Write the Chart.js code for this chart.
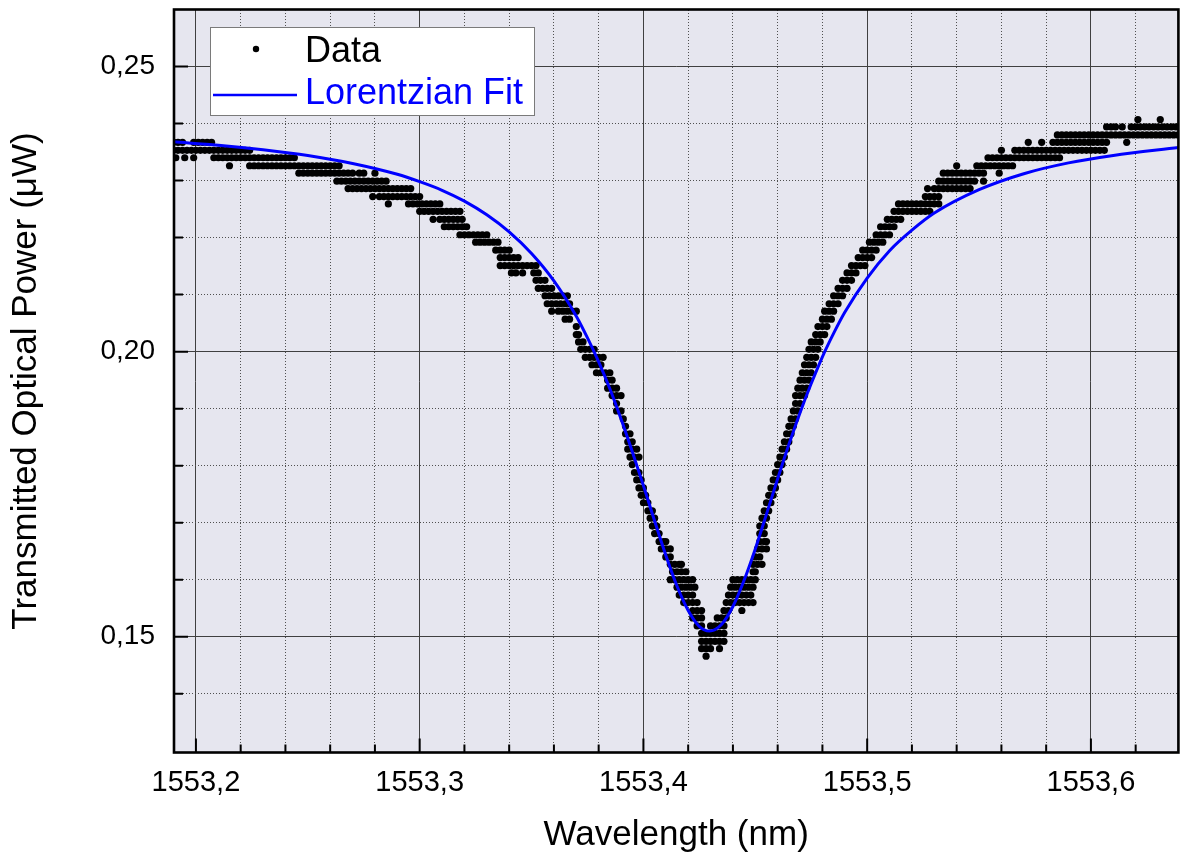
<!DOCTYPE html>
<html>
<head>
<meta charset="utf-8">
<script src="https://cdn.jsdelivr.net/npm/chart.js@4.4.1/dist/chart.umd.min.js"></script>
<style>
  html, body { margin: 0; padding: 0; background: #ffffff; }
  #wrap { width: 1182px; height: 861px; }
</style>
</head>
<body>
<div id="wrap"><canvas id="c" width="1182" height="861"></canvas></div>
<script>
// ---------------- data ----------------
const xTitle = 'Wavelength (nm)';
const yTitle = 'Transmitted Optical Power (\u03bcW)';
const legendLabels = ['Data', 'Lorentzian Fit'];

const xMajorTicks = [1553.2, 1553.3, 1553.4, 1553.5, 1553.6];
const xTickLabels = ['1553,2', '1553,3', '1553,4', '1553,5', '1553,6'];
const yMajorTicks = [0.15, 0.20, 0.25];
const yTickLabels = ['0,15', '0,20', '0,25'];
const xMinorTicks = [1553.22, 1553.24, 1553.26, 1553.28, 1553.32, 1553.34, 1553.36, 1553.38,
                     1553.42, 1553.44, 1553.46, 1553.48, 1553.52, 1553.54, 1553.56, 1553.58,
                     1553.62];
const yMinorTicks = [0.14, 0.16, 0.17, 0.18, 0.19, 0.21, 0.22, 0.23, 0.24];
const xRange = [1553.1902, 1553.6391];
const yRange = [0.1297, 0.2600];

// measured points: power levels (quantised readout) and the wavelengths seen on each level
const dataPowerLevels = [
  0.2407, 0.2394, 0.2380, 0.2367, 0.2353, 0.2340, 0.2326, 0.2313, 0.2299, 0.2286,
  0.2272, 0.2259, 0.2246, 0.2232, 0.2219, 0.2205, 0.2192, 0.2178, 0.2165, 0.2151,
  0.2138, 0.2125, 0.2111, 0.2098, 0.2084, 0.2071, 0.2057, 0.2044, 0.2030, 0.2017,
  0.2004, 0.1990, 0.1977, 0.1963, 0.1950, 0.1936, 0.1923, 0.1909, 0.1896, 0.1882,
  0.1869, 0.1856, 0.1842, 0.1829, 0.1815, 0.1802, 0.1788, 0.1775, 0.1761, 0.1748,
  0.1735, 0.1721, 0.1708, 0.1694, 0.1681, 0.1667, 0.1654, 0.1640, 0.1627, 0.1614,
  0.1600, 0.1587, 0.1573, 0.1560, 0.1546, 0.1533, 0.1519, 0.1506, 0.1492, 0.1479,
  0.1466
];
const dataWavelengthsByLevel = [
  [1553.621, 1553.631],
  [1553.607, 1553.609, 1553.611, 1553.614, 1553.618, 1553.620, 1553.622, 1553.624, 1553.626, 1553.628, 1553.630, 1553.632, 1553.634, 1553.636, 1553.638],
  [1553.585, 1553.587, 1553.589, 1553.591, 1553.593, 1553.595, 1553.597, 1553.599, 1553.601, 1553.603, 1553.605, 1553.607, 1553.609, 1553.611, 1553.613, 1553.615, 1553.617, 1553.619, 1553.621, 1553.623, 1553.625, 1553.627, 1553.629, 1553.631, 1553.633, 1553.635, 1553.637, 1553.639],
  [1553.190, 1553.192, 1553.194, 1553.199, 1553.201, 1553.203, 1553.205, 1553.207, 1553.572, 1553.578, 1553.583, 1553.585, 1553.587, 1553.589, 1553.591, 1553.593, 1553.595, 1553.597, 1553.599, 1553.601, 1553.603, 1553.605, 1553.607, 1553.616],
  [1553.190, 1553.192, 1553.194, 1553.196, 1553.198, 1553.200, 1553.202, 1553.204, 1553.206, 1553.208, 1553.210, 1553.212, 1553.214, 1553.216, 1553.218, 1553.220, 1553.222, 1553.224, 1553.560, 1553.566, 1553.568, 1553.570, 1553.572, 1553.574, 1553.576, 1553.578, 1553.580, 1553.582, 1553.584, 1553.586, 1553.588, 1553.590, 1553.592, 1553.594, 1553.596, 1553.598, 1553.600, 1553.602, 1553.604, 1553.606],
  [1553.191, 1553.195, 1553.199, 1553.208, 1553.210, 1553.212, 1553.214, 1553.216, 1553.218, 1553.220, 1553.222, 1553.224, 1553.226, 1553.228, 1553.230, 1553.232, 1553.234, 1553.236, 1553.238, 1553.240, 1553.242, 1553.244, 1553.554, 1553.556, 1553.558, 1553.560, 1553.562, 1553.564, 1553.566, 1553.568, 1553.570, 1553.572, 1553.574, 1553.576, 1553.578, 1553.580, 1553.582, 1553.584, 1553.586],
  [1553.215, 1553.224, 1553.226, 1553.228, 1553.230, 1553.232, 1553.234, 1553.236, 1553.238, 1553.240, 1553.242, 1553.244, 1553.246, 1553.248, 1553.250, 1553.252, 1553.254, 1553.256, 1553.258, 1553.260, 1553.262, 1553.264, 1553.540, 1553.549, 1553.551, 1553.553, 1553.555, 1553.557, 1553.559, 1553.561, 1553.563, 1553.565],
  [1553.246, 1553.248, 1553.250, 1553.252, 1553.254, 1553.256, 1553.258, 1553.260, 1553.262, 1553.264, 1553.266, 1553.268, 1553.270, 1553.273, 1553.275, 1553.280, 1553.534, 1553.536, 1553.538, 1553.540, 1553.542, 1553.544, 1553.546, 1553.548, 1553.550, 1553.552, 1553.559],
  [1553.263, 1553.265, 1553.267, 1553.269, 1553.271, 1553.273, 1553.275, 1553.277, 1553.279, 1553.281, 1553.283, 1553.285, 1553.532, 1553.534, 1553.536, 1553.538, 1553.540, 1553.542, 1553.544, 1553.546, 1553.548, 1553.552],
  [1553.268, 1553.270, 1553.272, 1553.274, 1553.276, 1553.278, 1553.280, 1553.282, 1553.284, 1553.286, 1553.288, 1553.290, 1553.292, 1553.294, 1553.296, 1553.527, 1553.530, 1553.532, 1553.534, 1553.536, 1553.538, 1553.540, 1553.542, 1553.544, 1553.546],
  [1553.279, 1553.282, 1553.284, 1553.286, 1553.288, 1553.290, 1553.292, 1553.294, 1553.296, 1553.298, 1553.300, 1553.526, 1553.528, 1553.530, 1553.532],
  [1553.286, 1553.295, 1553.297, 1553.299, 1553.301, 1553.303, 1553.305, 1553.307, 1553.309, 1553.514, 1553.516, 1553.518, 1553.520, 1553.522, 1553.524, 1553.526, 1553.528, 1553.530, 1553.532],
  [1553.300, 1553.302, 1553.304, 1553.306, 1553.308, 1553.310, 1553.312, 1553.314, 1553.316, 1553.318, 1553.512, 1553.514, 1553.516, 1553.518, 1553.520, 1553.522, 1553.524, 1553.526, 1553.528],
  [1553.306, 1553.309, 1553.311, 1553.313, 1553.315, 1553.317, 1553.319, 1553.509, 1553.511, 1553.513, 1553.515],
  [1553.311, 1553.313, 1553.315, 1553.317, 1553.319, 1553.321, 1553.506, 1553.508, 1553.510, 1553.512],
  [1553.318, 1553.320, 1553.322, 1553.324, 1553.326, 1553.328, 1553.330, 1553.504, 1553.506, 1553.508, 1553.510],
  [1553.325, 1553.327, 1553.329, 1553.331, 1553.333, 1553.335, 1553.501, 1553.503, 1553.505, 1553.507],
  [1553.334, 1553.336, 1553.338, 1553.340, 1553.498, 1553.500, 1553.502, 1553.504],
  [1553.336, 1553.338, 1553.340, 1553.342, 1553.344, 1553.496, 1553.498, 1553.500, 1553.502],
  [1553.336, 1553.338, 1553.340, 1553.342, 1553.344, 1553.346, 1553.348, 1553.350, 1553.352, 1553.493, 1553.495, 1553.497, 1553.499],
  [1553.341, 1553.343, 1553.346, 1553.351, 1553.353, 1553.491, 1553.493, 1553.495],
  [1553.352, 1553.354, 1553.356, 1553.489, 1553.491, 1553.493],
  [1553.353, 1553.355, 1553.357, 1553.359, 1553.487, 1553.489, 1553.491],
  [1553.356, 1553.358, 1553.360, 1553.362, 1553.364, 1553.366, 1553.485, 1553.487, 1553.489],
  [1553.357, 1553.359, 1553.361, 1553.363, 1553.365, 1553.367, 1553.483, 1553.485, 1553.487],
  [1553.359, 1553.362, 1553.364, 1553.366, 1553.368, 1553.370, 1553.481, 1553.483, 1553.485],
  [1553.365, 1553.367, 1553.480, 1553.482, 1553.484],
  [1553.370, 1553.478, 1553.480, 1553.482],
  [1553.370, 1553.371, 1553.477, 1553.479, 1553.481],
  [1553.371, 1553.373, 1553.475, 1553.477, 1553.479],
  [1553.372, 1553.374, 1553.376, 1553.378, 1553.474, 1553.476, 1553.478],
  [1553.374, 1553.376, 1553.378, 1553.380, 1553.382, 1553.473, 1553.475, 1553.477],
  [1553.377, 1553.379, 1553.381, 1553.472, 1553.474, 1553.476],
  [1553.379, 1553.381, 1553.383, 1553.385, 1553.471, 1553.473, 1553.475],
  [1553.384, 1553.386, 1553.470, 1553.472, 1553.474],
  [1553.384, 1553.386, 1553.388, 1553.469, 1553.471, 1553.473],
  [1553.386, 1553.388, 1553.390, 1553.468, 1553.470, 1553.472],
  [1553.388, 1553.468, 1553.470],
  [1553.388, 1553.390, 1553.467, 1553.469],
  [1553.391, 1553.466, 1553.468],
  [1553.392, 1553.465, 1553.467],
  [1553.392, 1553.394, 1553.464, 1553.466],
  [1553.393, 1553.395, 1553.463, 1553.465],
  [1553.393, 1553.395, 1553.397, 1553.462, 1553.464],
  [1553.394, 1553.396, 1553.398, 1553.461, 1553.463],
  [1553.395, 1553.460, 1553.462],
  [1553.396, 1553.398, 1553.459, 1553.461],
  [1553.397, 1553.399, 1553.458, 1553.460],
  [1553.398, 1553.400, 1553.457, 1553.459],
  [1553.399, 1553.401, 1553.456, 1553.458],
  [1553.400, 1553.402, 1553.455, 1553.457],
  [1553.402, 1553.404, 1553.454, 1553.456],
  [1553.403, 1553.405, 1553.453, 1553.455],
  [1553.404, 1553.406, 1553.452, 1553.454],
  [1553.405, 1553.407, 1553.452, 1553.454],
  [1553.407, 1553.409, 1553.410, 1553.452, 1553.454, 1553.455],
  [1553.408, 1553.410, 1553.412, 1553.451, 1553.453, 1553.455],
  [1553.410, 1553.412, 1553.450, 1553.452],
  [1553.412, 1553.414, 1553.416, 1553.417, 1553.449, 1553.451, 1553.453],
  [1553.413, 1553.415, 1553.417, 1553.419, 1553.449, 1553.450],
  [1553.412, 1553.414, 1553.416, 1553.418, 1553.420, 1553.422, 1553.440, 1553.442, 1553.444, 1553.446, 1553.448, 1553.450],
  [1553.415, 1553.417, 1553.419, 1553.421, 1553.423, 1553.439, 1553.441, 1553.443, 1553.445, 1553.447, 1553.449],
  [1553.416, 1553.418, 1553.420, 1553.422, 1553.438, 1553.440, 1553.442, 1553.444, 1553.446, 1553.448],
  [1553.418, 1553.420, 1553.422, 1553.424, 1553.437, 1553.439, 1553.441, 1553.443, 1553.445, 1553.447, 1553.449],
  [1553.422, 1553.424, 1553.426, 1553.436, 1553.438, 1553.444],
  [1553.422, 1553.424, 1553.426, 1553.433, 1553.435, 1553.437],
  [1553.424, 1553.426, 1553.430, 1553.432, 1553.434, 1553.436],
  [1553.426, 1553.428, 1553.430, 1553.432, 1553.434, 1553.436],
  [1553.426, 1553.428, 1553.430, 1553.432, 1553.434, 1553.436],
  [1553.426, 1553.428, 1553.430, 1553.434],
  [1553.428]
];

// Lorentzian fit curve
const fitWavelength = [
  1553.1902, 1553.210, 1553.230, 1553.250, 1553.270, 1553.290, 1553.300, 1553.310, 1553.320, 1553.330,
  1553.340, 1553.350, 1553.360, 1553.370, 1553.375, 1553.380, 1553.385, 1553.390, 1553.395, 1553.400,
  1553.405, 1553.410, 1553.415, 1553.420, 1553.425, 1553.4295, 1553.435, 1553.440, 1553.445, 1553.450,
  1553.455, 1553.460, 1553.465, 1553.470, 1553.475, 1553.480, 1553.485, 1553.490, 1553.500, 1553.510,
  1553.520, 1553.530, 1553.550, 1553.570, 1553.590, 1553.610, 1553.6391
];
const fitPower = [
  0.2368, 0.2362, 0.2354, 0.2344, 0.2330, 0.2311, 0.2298, 0.2283, 0.2264, 0.2240,
  0.2210, 0.2172, 0.2124, 0.2062, 0.2024, 0.1982, 0.1935, 0.1882, 0.1825, 0.1765,
  0.1703, 0.1643, 0.1589, 0.1546, 0.1518, 0.1510, 0.1522, 0.1553, 0.1599, 0.1654,
  0.1715, 0.1777, 0.1837, 0.1893, 0.1944, 0.1991, 0.2032, 0.2069, 0.2129, 0.2177,
  0.2213, 0.2243, 0.2284, 0.2312, 0.2331, 0.2344, 0.2358
];

// ---------------- styling ----------------
const FONT = "'Liberation Sans', Arial, Helvetica, sans-serif";
const plotBg = '#e6e6ef';
const dataColor = '#000000';
const fitColor = '#0000ff';

const dataPoints = [];
dataPowerLevels.forEach((p, i) => {
  dataWavelengthsByLevel[i].forEach(w => dataPoints.push({ x: w, y: p }));
});
const fitPoints = fitWavelength.map((w, i) => ({ x: w, y: fitPower[i] }));

const noPad = s => { s.paddingTop = 0; s.paddingBottom = 0; s.paddingLeft = 0; s.paddingRight = 0; };

const framePlugin = {
  id: 'frame',
  beforeDraw(chart) {
    const { ctx, chartArea: a } = chart;
    ctx.save();
    ctx.fillStyle = '#ffffff';
    ctx.fillRect(0, 0, chart.width, chart.height);
    ctx.fillStyle = plotBg;
    ctx.fillRect(a.left, a.top, a.right - a.left, a.bottom - a.top);
    ctx.restore();
  },
  afterDraw(chart) {
    const { ctx, chartArea: a } = chart;
    const xs = chart.scales.x, ys = chart.scales.y;
    ctx.save();
    // inward ticks
    ctx.strokeStyle = '#000';
    ctx.lineWidth = 2;
    ctx.beginPath();
    xMajorTicks.forEach(v => { const p = xs.getPixelForValue(v); ctx.moveTo(p, a.bottom); ctx.lineTo(p, a.bottom - 14); });
    xMinorTicks.forEach(v => { const p = xs.getPixelForValue(v); ctx.moveTo(p, a.bottom); ctx.lineTo(p, a.bottom - 8); });
    yMajorTicks.forEach(v => { const p = ys.getPixelForValue(v); ctx.moveTo(a.left, p); ctx.lineTo(a.left + 14, p); });
    yMinorTicks.forEach(v => { const p = ys.getPixelForValue(v); ctx.moveTo(a.left, p); ctx.lineTo(a.left + 9, p); });
    ctx.stroke();
    // frame
    ctx.lineWidth = 2.6;
    ctx.strokeRect(a.left, a.top, a.right - a.left, a.bottom - a.top);
    // legend
    const bx = a.left + 36, by = a.top + 17.5, bw = 324, bh = 88;
    ctx.fillStyle = '#ffffff';
    ctx.fillRect(bx, by, bw, bh);
    ctx.strokeStyle = '#7a7a7a';
    ctx.lineWidth = 1;
    ctx.strokeRect(bx + 0.5, by + 0.5, bw, bh);
    ctx.fillStyle = dataColor;
    ctx.beginPath();
    ctx.arc(bx + 46, by + 22, 3.2, 0, Math.PI * 2);
    ctx.fill();
    ctx.strokeStyle = fitColor;
    ctx.lineWidth = 2.5;
    ctx.beginPath();
    ctx.moveTo(bx + 3, by + 68);
    ctx.lineTo(bx + 87, by + 68);
    ctx.stroke();
    ctx.font = '36px ' + FONT;
    ctx.textBaseline = 'alphabetic';
    ctx.textAlign = 'left';
    ctx.fillStyle = dataColor;
    ctx.fillText(legendLabels[0], bx + 95, by + 35);
    ctx.fillStyle = fitColor;
    ctx.fillText(legendLabels[1], bx + 95, by + 77);
    ctx.restore();
  }
};

new Chart(document.getElementById('c'), {
  type: 'scatter',
  data: {
    datasets: [
      {
        label: legendLabels[0],
        data: dataPoints,
        pointRadius: 3.6,
        pointHoverRadius: 3.6,
        pointBorderWidth: 0,
        pointBackgroundColor: dataColor,
        backgroundColor: dataColor,
        borderColor: dataColor,
        showLine: false,
        order: 2
      },
      {
        label: legendLabels[1],
        data: fitPoints,
        showLine: true,
        pointRadius: 0,
        pointHoverRadius: 0,
        borderColor: fitColor,
        borderWidth: 3,
        cubicInterpolationMode: 'monotone',
        fill: false,
        order: 1
      }
    ]
  },
  options: {
    responsive: false,
    animation: false,
    events: [],
    layout: { padding: { top: 9.5, right: 1.5, left: 0, bottom: 0 } },
    plugins: { legend: { display: false }, tooltip: { enabled: false } },
    scales: {
      x: {
        type: 'linear', position: 'bottom', min: xRange[0], max: xRange[1],
        afterBuildTicks: s => { s.ticks = xMajorTicks.map(v => ({ value: v })); },
        afterFit: s => { s.height = 108.5; noPad(s); },
        ticks: {
          callback: v => { const i = xMajorTicks.indexOf(v); return i >= 0 ? xTickLabels[i] : ''; },
          font: { family: FONT, size: 29 }, color: '#000', padding: 13,
          maxRotation: 0, autoSkip: false
        },
        grid: { color: '#404040', lineWidth: 1, drawTicks: false },
        border: { display: false },
        title: { display: true, text: xTitle, color: '#000', font: { family: FONT, size: 35 }, padding: { top: 0, bottom: 5 } }
      },
      y: {
        type: 'linear', position: 'left', min: yRange[0], max: yRange[1],
        afterBuildTicks: s => { s.ticks = yMajorTicks.map(v => ({ value: v })); },
        afterFit: s => { s.width = 174; noPad(s); },
        ticks: {
          callback: v => { const i = yMajorTicks.indexOf(v); return i >= 0 ? yTickLabels[i] : ''; },
          font: { family: FONT, size: 28 }, color: '#000', padding: 19, autoSkip: false
        },
        grid: { color: '#404040', lineWidth: 1, drawTicks: false },
        border: { display: false },
        title: { display: true, text: yTitle, color: '#000', font: { family: FONT, size: 35 }, padding: { top: 5, bottom: 0 } }
      },
      xMinor: {
        type: 'linear', position: 'top', min: xRange[0], max: xRange[1],
        afterBuildTicks: s => { s.ticks = xMinorTicks.map(v => ({ value: v })); },
        afterFit: s => { s.height = 0; noPad(s); },
        ticks: { display: false },
        grid: { color: '#505050', lineWidth: 1, drawTicks: false },
        border: { display: false, dash: [1, 2] }
      },
      yMinor: {
        type: 'linear', position: 'right', min: yRange[0], max: yRange[1],
        afterBuildTicks: s => { s.ticks = yMinorTicks.map(v => ({ value: v })); },
        afterFit: s => { s.width = 0; noPad(s); },
        ticks: { display: false },
        grid: { color: '#505050', lineWidth: 1, drawTicks: false },
        border: { display: false, dash: [1, 2] }
      }
    }
  },
  plugins: [framePlugin]
});
</script>
</body>
</html>
